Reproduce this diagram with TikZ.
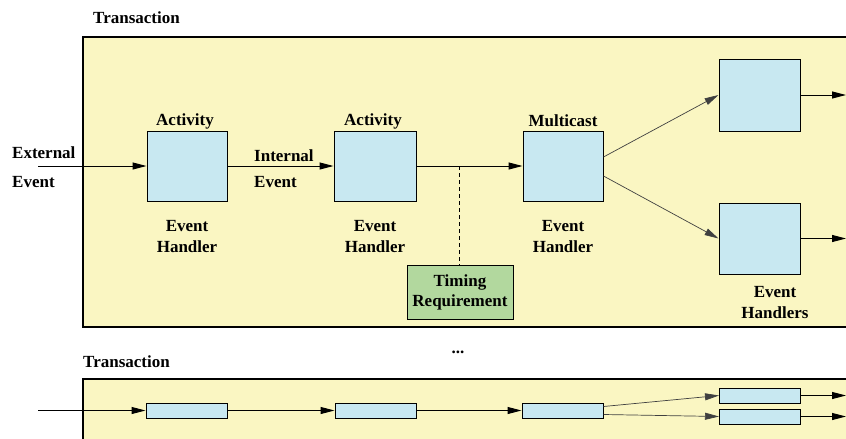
\documentclass[tikz,border=0pt]{standalone}
\usepackage{fontspec}
\setmainfont{Liberation Serif}
\usetikzlibrary{arrows.meta}
\definecolor{txyellow}{HTML}{FAF6C2}
\definecolor{hblue}{HTML}{C8E8F1}
\definecolor{tgreen}{HTML}{B2D89E}
\tikzset{
  lbl/.style={font=\fontsize{17}{20}\selectfont\bfseries, inner sep=0pt, align=center},
  frame/.style={draw=black, line width=1.3pt, fill=txyellow},
  handler/.style={draw=black, line width=1pt, fill=hblue, inner sep=0pt},
  timing/.style={draw=black, line width=1pt, fill=tgreen, inner sep=0pt, minimum width=106pt, minimum height=54pt},
  flow/.style={line width=1pt, -{Triangle[length=14pt,width=7pt]}},
  fan/.style={line width=0.7pt, draw=black!75, -{Triangle[length=14pt,width=7pt]}},
}
\begin{document}
\begin{tikzpicture}[x=1pt,y=-1pt]
\useasboundingbox (0,0) rectangle (846,439);
\clip (0,0) rectangle (846,439);

% ---------- first transaction ----------
\node[lbl, anchor=west] (t1) at (93,18) {Transaction};
\path[frame] (83,37) rectangle (860,327);

\node[handler, minimum width=80pt, minimum height=70pt] (h1) at (187,166) {};
\node[handler, minimum width=82pt, minimum height=70pt] (h2) at (375,166) {};
\node[handler, minimum width=80pt, minimum height=70pt] (h3) at (563,166) {};
\node[handler, minimum width=81pt, minimum height=72pt] (h4) at (759.5,95) {};
\node[handler, minimum width=81pt, minimum height=71pt] (h5) at (759.5,238.5) {};

\node[lbl] (a1) at (185,121) {Activity};
\node[lbl] (a2) at (373,121) {Activity};
\node[lbl] (a3) at (563,121) {Multicast};
\node[lbl] (e1) at (187,237) {Event\\[1pt]Handler};
\node[lbl] (e2) at (375,237) {Event\\[1pt]Handler};
\node[lbl] (e3) at (563,237) {Event\\[1pt]Handler};
\node[lbl] (e4) at (775,303) {Event\\[1pt]Handlers};
\node[lbl, anchor=west, align=left] (ext) at (12,167.5) {External\\[9pt]Event};
\node[lbl, anchor=west, align=left] (int) at (254,168.5) {Internal\\[6pt]Event};

\node[timing] (tr) at (460,292) {};
\node[lbl] (trt) at (tr.center) {Timing\\[0pt]Requirement};

\coordinate (in1) at (38,166);
\coordinate (tap) at (459,166);
\coordinate (o1) at (846,95);
\coordinate (o2) at (846,238.5);

\draw[flow] (in1) -- (h1.west);
\draw[flow] (h1.east) -- (h2.west);
\draw[flow] (h2.east) -- (h3.west);
\draw[line width=0.9pt, dash pattern=on 4pt off 3pt] (tap) -- (tap |- tr.north);
% positive yshift moves up on the canvas
\draw[fan] ([yshift=9pt]h3.east) -- (h4.west);
\draw[fan] ([yshift=-10pt]h3.east) -- (h5.west);
\draw[flow] (h4.east) -- (o1);
\draw[flow] (h5.east) -- (o2);

% ---------- second transaction (collapsed) ----------
\node[lbl, anchor=west] (t2) at (83,362) {Transaction};
\node[lbl] (dots) at (458,352) {...};
\path[frame] (83,379) rectangle (860,445);

\node[handler, minimum width=81pt, minimum height=15pt] (s1) at (186.5,410.5) {};
\node[handler, minimum width=81pt, minimum height=15pt] (s2) at (375.5,410.5) {};
\node[handler, minimum width=81pt, minimum height=15pt] (s3) at (562.5,410.5) {};
\node[handler, minimum width=81pt, minimum height=15pt] (s4) at (760,395.5) {};
\node[handler, minimum width=81pt, minimum height=15pt] (s5) at (760,416.5) {};

\coordinate (in2) at (38,410.5);
\coordinate (o3) at (846,395.5);
\coordinate (o4) at (846,416.5);

\draw[flow] (in2) -- (s1.west);
\draw[flow] (s1.east) -- (s2.west);
\draw[flow] (s2.east) -- (s3.west);
\draw[fan] ([yshift=4pt]s3.east) -- (s4.west);
\draw[fan] ([yshift=-4pt]s3.east) -- (s5.west);
\draw[flow] (s4.east) -- (o3);
\draw[flow] (s5.east) -- (o4);
\end{tikzpicture}
\end{document}
